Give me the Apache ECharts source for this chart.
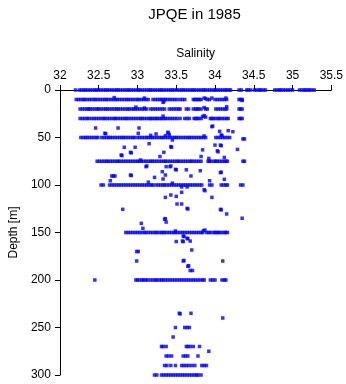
<!DOCTYPE html>
<html><head><meta charset="utf-8">
<script src="https://cdn.jsdelivr.net/npm/echarts@6/dist/echarts.min.js"></script>
<style>html,body{margin:0;padding:0;background:#fff}#c{width:346px;height:384px}</style>
</head><body><div id="c"></div>
<script>
const chartTitle = 'JPQE in 1985';
const xName = 'Salinity';
const yName = 'Depth [m]';
const xTickMin = 32, xTickMax = 35.5, xTickStep = 0.5;
const yTickMin = 0, yTickMax = 300, yTickStep = 50;

// salinity readings along standard depths
const sal0 = [32.20,32.25,32.28,32.31,32.33,32.36,32.39,32.42,32.45,32.47,32.50,32.53,32.56,32.59,32.61,32.64,32.67,32.70,32.73,32.75,32.78,32.81,32.84,32.87,32.89,32.92,32.95,32.98,33.01,33.03,33.06,33.09,33.12,33.15,33.17,33.20,33.23,33.26,33.29,33.31,33.34,33.37,33.40,33.43,33.45,33.48,33.51,33.54,33.57,33.59,33.62,33.65,33.68,33.71,33.73,33.76,33.79,33.82,33.85,33.87,33.90,33.93,33.96,33.99,34.01,34.04,34.07,34.10,34.13,34.15,34.18,34.20,34.31,34.34,34.41,34.43,34.46,34.51,34.54,34.57,34.59,34.62,34.65,34.77,34.80,34.83,34.85,34.88,34.91,34.94,34.97,35.00,35.09,35.12,35.15,35.17,35.20,35.22,35.25,35.28];
const sal10 = [32.21,32.24,32.27,32.30,32.32,32.35,32.38,32.41,32.44,32.46,32.49,32.52,32.55,32.58,32.60,32.63,32.66,32.69,32.72,32.74,32.77,32.80,32.83,32.86,32.88,32.91,32.94,32.97,33.00,33.02,33.05,33.08,33.11,33.14,33.20,33.23,33.26,33.29,33.31,33.34,33.36,33.39,33.42,33.45,33.48,33.51,33.55,33.58,33.61,33.72,33.74,33.76,33.78,33.80,33.82,33.90,33.93,34.00,34.03,34.06,34.09,34.12,34.15,34.31,34.33,34.35];
const sal20 = [32.26,32.29,32.32,32.35,32.37,32.39,32.42,32.45,32.48,32.50,32.53,32.56,32.59,32.61,32.64,32.67,32.70,32.73,32.75,32.78,32.81,32.84,32.87,32.89,32.92,32.95,32.97,33.00,33.03,33.06,33.09,33.12,33.17,33.20,33.23,33.26,33.29,33.32,33.35,33.41,33.44,33.47,33.50,33.53,33.55,33.63,33.66,33.72,33.75,33.77,33.79,33.82,33.88,33.90,34.01,34.04,34.07,34.10,34.13,34.15,34.31,34.33,34.35];
const sal30 = [32.26,32.29,32.32,32.35,32.37,32.41,32.44,32.47,32.50,32.53,32.56,32.58,32.61,32.64,32.67,32.70,32.72,32.75,32.78,32.81,32.84,32.86,32.89,32.92,32.95,32.98,33.01,33.04,33.06,33.09,33.12,33.15,33.17,33.19,33.22,33.24,33.26,33.29,33.31,33.34,33.36,33.39,33.42,33.45,33.48,33.51,33.55,33.61,33.64,33.67,33.73,33.75,33.77,33.79,33.82,33.94,33.96,33.98,34.01,34.04,34.06,34.09,34.12,34.15,34.17,34.31,34.33,34.35];
const sal50 = [32.27,32.30,32.33,32.35,32.38,32.41,32.44,32.47,32.49,32.54,32.57,32.60,32.63,32.65,32.68,32.71,32.74,32.77,32.80,32.82,32.85,32.88,32.91,32.94,32.96,33.00,33.03,33.06,33.09,33.12,33.14,33.17,33.19,33.22,33.25,33.28,33.31,33.33,33.36,33.39,33.42,33.45,33.48,33.50,33.53,33.56,33.59,33.62,33.65,33.67,33.70,33.73,33.76,33.79,33.82,33.85,33.88,34.01,34.04,34.07,34.10,34.13,34.16,34.19];
const sal75 = [32.48,32.51,32.54,32.57,32.60,32.62,32.65,32.68,32.71,32.74,32.76,32.79,32.82,32.85,32.88,32.91,32.94,32.97,33.00,33.02,33.05,33.08,33.11,33.14,33.17,33.19,33.22,33.25,33.28,33.31,33.34,33.36,33.39,33.42,33.45,33.48,33.51,33.53,33.56,33.59,33.62,33.65,33.68,33.70,33.73,33.76,33.79,33.82,33.91,33.93,33.95,33.99,34.01,34.03,34.06,34.09,34.12,34.14,34.16,34.36,34.38];
const sal100 = [32.53,32.56,32.64,32.67,32.70,32.73,32.76,32.79,32.82,32.85,32.88,32.91,32.94,32.97,33.00,33.03,33.06,33.09,33.12,33.15,33.18,33.20,33.24,33.27,33.30,33.33,33.35,33.38,33.41,33.44,33.47,33.50,33.53,33.56,33.59,33.62,33.65,33.68,33.71,33.74,33.77,33.80,33.83,33.93,33.96,34.08,34.11,34.14,34.16,34.33,34.36];
const sal150 = [32.85,32.88,32.91,32.94,32.97,33.00,33.03,33.06,33.09,33.11,33.14,33.17,33.20,33.23,33.25,33.28,33.31,33.33,33.35,33.38,33.41,33.44,33.47,33.49,33.52,33.55,33.58,33.61,33.64,33.67,33.70,33.73,33.76,33.79,33.82,33.84,33.89,33.92,33.94,33.98,34.00,34.02,34.04,34.06,34.09,34.12,34.14,34.16];
const sal200 = [32.45,32.98,33.00,33.03,33.06,33.08,33.11,33.13,33.17,33.20,33.23,33.25,33.28,33.31,33.33,33.36,33.39,33.42,33.45,33.48,33.51,33.54,33.57,33.60,33.63,33.66,33.69,33.72,33.75,33.78,33.81,33.84,33.86,33.94,33.97,34.00,34.09,34.12,34.14];
const sal270 = [33.31,33.33,33.37,33.63,33.65,33.68,33.72,33.80];
const sal280 = [33.37,33.40,33.44,33.59,33.62,33.65,33.78];
const sal290 = [33.35,33.38,33.43,33.49,33.57,33.60,33.63,33.66,33.70,33.74,33.83,33.86,33.89];
const sal300 = [33.22,33.25,33.31,33.34,33.37,33.40,33.43,33.46,33.49,33.52,33.55,33.58,33.61,33.64,33.67,33.70,33.73,33.76,33.78,33.82];
const rowDepths = [0,10,20,30,50,75,100,150,200,270,280,290,300];
const rowSal = [sal0,sal10,sal20,sal30,sal50,sal75,sal100,sal150,sal200,sal270,sal280,sal290,sal300];

// individual readings between standard depths: [salinity, depth]
const extra0to30 = [[32.70,8],[33.09,8.5],[33.33,13],[33.34,12],[33.86,8.5],[33.88,9],[33.96,8.5],[34.14,8.5],[34.35,11],[32.98,18],[33.09,19],[34.15,17.5],[33.86,18.5],[33.33,27.5],[33.84,28],[33.86,27],[33.88,28.5]];
const extra30to50 = [[32.46,40],[32.75,40],[33.02,40],[32.58,45.5],[32.59,46],[33.01,45.6],[33.39,44.5],[33.40,45.3],[33.17,47.7],[33.24,46.3],[33.36,48],[33.41,47.4],[33.96,38.6],[33.97,38],[34.06,43.5],[34.17,42.8],[34.23,43.9],[33.86,48.4],[34.08,47.4],[34.09,48],[34.36,51.5],[34.38,51.5]];
const extra50to75 = [[33.15,56.5],[33.45,52.6],[32.83,60.3],[32.97,60.3],[33.43,59.6],[33.44,60.2],[33.84,63],[32.91,65.6],[32.92,66.2],[32.79,68.4],[32.80,69],[33.34,65.6],[33.29,70],[33.82,70],[33.04,73.7],[34.00,58],[34.07,58],[34.08,58.6],[34.03,64],[34.04,65],[34.29,62.5],[33.92,72],[34.12,71]];
const extra75to100 = [[33.11,80.7],[33.12,80],[33.37,80.7],[33.42,80.7],[33.43,80],[33.49,83.5],[33.50,84],[33.81,85],[33.32,86],[33.36,89.5],[32.67,90.5],[32.69,90.5],[32.71,90.5],[32.91,89.5],[32.92,90],[33.22,92],[33.33,93.7],[33.69,90.5],[32.65,95.5],[33.14,97],[33.63,84],[34.07,87],[34.08,86.5],[34.12,94],[33.93,95.5],[33.45,98]];
const extra100to150 = [[33.57,102],[33.64,102],[33.86,105],[33.87,106],[33.57,107.7],[33.43,110.5],[33.50,112],[33.36,113],[33.51,120],[33.57,120],[33.64,124.6],[33.65,125.2],[32.81,125.6],[33.05,140.4],[33.07,145.6],[33.35,136],[33.36,135.4],[33.37,139],[33.49,148.4],[33.96,113],[34.07,125.6],[34.08,126.2],[34.15,130.5],[34.35,135],[33.85,148],[33.87,147.5]];
const extra150to200 = [[33.59,153.7],[33.60,154.3],[33.64,156],[33.65,156.6],[33.50,159.5],[33.58,159],[33.59,159.6],[33.68,159],[33.70,168.4],[32.99,170],[33.01,170],[32.99,180],[33.59,180],[33.60,179.4],[34.10,180],[33.65,185.6],[33.66,185],[33.68,190],[33.71,190]];
const extra200to300 = [[33.54,235],[33.55,235.7],[33.69,235],[34.10,240],[33.49,250],[33.61,250],[33.64,250],[33.67,250],[33.46,260],[33.92,275]];

const points = [];
rowSal.forEach((arr, i) => arr.forEach(s => points.push([s, rowDepths[i]])));
[extra0to30, extra30to50, extra50to75, extra75to100, extra100to150, extra150to200, extra200to300]
  .forEach(g => g.forEach(p => points.push(p)));

const font = "'Liberation Sans', Arial, Helvetica, sans-serif";
const chart = echarts.init(document.getElementById('c'), null, {renderer: 'canvas'});
chart.setOption({
  animation: false,
  backgroundColor: '#ffffff',
  title: {
    text: chartTitle, left: 189.5, top: 2, textAlign: 'center',
    textStyle: {fontFamily: font, fontSize: 15, fontWeight: 'normal', color: '#000'}
  },
  grid: {left: 47, right: 14, top: 90, bottom: 9, containLabel: false},
  xAxis: {
    type: 'value', position: 'top', min: xTickMin, max: xTickMax, interval: xTickStep,
    name: xName, nameLocation: 'middle', nameGap: 30,
    nameTextStyle: {fontFamily: font, fontSize: 12, color: '#000'},
    axisLine: {onZero: false, lineStyle: {color: '#000', width: 1}},
    axisTick: {show: true, length: 5, lineStyle: {color: '#000'}},
    axisLabel: {fontFamily: font, fontSize: 12, color: '#000', margin: 8},
    splitLine: {show: false}
  },
  yAxis: {
    type: 'value', inverse: true, min: yTickMin, max: yTickMax, interval: yTickStep,
    name: yName, nameLocation: 'middle', nameGap: 38, nameRotate: 90,
    nameTextStyle: {fontFamily: font, fontSize: 12, color: '#000'},
    axisLine: {onZero: false, lineStyle: {color: '#000', width: 1}},
    axisTick: {show: true, length: 5, lineStyle: {color: '#000'}},
    axisLabel: {fontFamily: font, fontSize: 12, color: '#000', margin: 9},
    splitLine: {show: false}
  },
  series: [{
    type: 'scatter', data: points, symbol: 'rect', symbolSize: 3.5, clip: false,
    itemStyle: {color: '#0000ff'}
  }]
});
</script></body></html>
